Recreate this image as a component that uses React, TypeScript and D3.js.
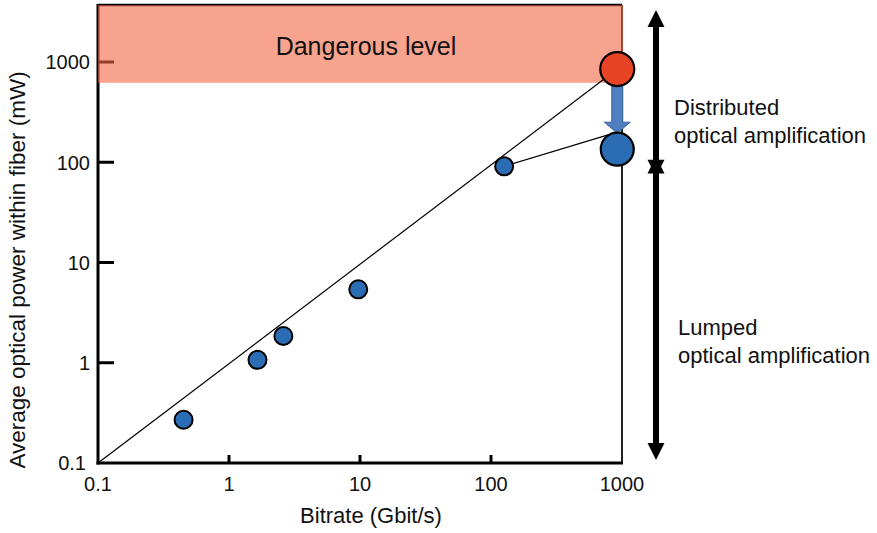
import React from "react";
import * as d3 from "d3";

const bitrate = [0.45, 1.65, 2.6, 9.7, 126];
const power = [0.27, 1.07, 1.85, 5.4, 91];
const distributedPoint = { bitrate: 920, power: 135 };
const dangerPoint = { bitrate: 920, power: 850 };
const idealLine = [ [0.1, 0.1], [920, 850] ];
const lumpedTrend = [ [126, 91], [830, 192] ];
const dangerLow = 620;
const dangerHigh = 3700;
const xTicks = [0.1, 1, 10, 100, 1000];
const yTicks = [0.1, 1, 10, 100, 1000];
const xTickLabels = ["0.1", "1", "10", "100", "1000"];
const yTickLabels = ["0.1", "1", "10", "100", "1000"];
const distributedRange = [3900, 130];
const lumpedRange = [125, 0.1];

export default function App() {
  const W = 877, H = 533;
  const x = d3.scaleLog().domain([0.1, 1000]).range([98, 622]);
  const y = d3.scaleLog().domain([0.1, 1000]).range([463, 62]);
  const font = "Arial, 'Liberation Sans', sans-serif";
  const line = d3.line<number[]>().x(d => x(d[0])).y(d => y(d[1]));
  const top = 5;
  const ax = 656;

  const dblArrow = (y1: number, y2: number, key: string) => {
    const hl = 17, hw = 8.5;
    return (
      <g key={key}>
        <line x1={ax} x2={ax} y1={y1 + hl - 2} y2={y2 - hl + 2} stroke="#000" strokeWidth={6} />
        <path d={`M${ax},${y1} L${ax - hw},${y1 + hl} L${ax + hw},${y1 + hl} Z`} fill="#000" />
        <path d={`M${ax},${y2} L${ax - hw},${y2 - hl} L${ax + hw},${y2 - hl} Z`} fill="#000" />
      </g>
    );
  };

  const ax0 = x(0.1), ax1 = x(1000), ay0 = y(0.1);
  const arrowX = x(distributedPoint.bitrate);
  const aTop = y(dangerPoint.power) + 17;
  const aHeadY = y(distributedPoint.power) - 27;
  const aTip = y(distributedPoint.power) - 16;

  return (
    <svg width={W} height={H} style={{ display: "block", position: "absolute", left: 0, top: 0 }}>
      <rect x={0} y={0} width={W} height={H} fill="#fff" />
      {/* frame */}
      <line x1={ax0} x2={ax1} y1={top} y2={top} stroke="#000" strokeWidth={2.5} />
      <line x1={ax1} x2={ax1} y1={top} y2={ay0} stroke="#222" strokeWidth={2} />
      {/* ticks */}
      {yTicks.map((t, i) => (
        <g key={"yt" + i}>
          {i > 0 && <line x1={ax0} x2={ax0 + 16} y1={y(t)} y2={y(t)} stroke="#000" strokeWidth={3} />}
          <text x={i === 0 ? 86 : 90} y={y(t) + 2} textAnchor="end" dominantBaseline="middle" fontSize={20} fontFamily={font} fill="#111">{yTickLabels[i]}</text>
        </g>
      ))}
      {xTicks.map((t, i) => (
        <g key={"xt" + i}>
          {i > 0 && i < xTicks.length - 1 && <line x1={x(t)} x2={x(t)} y1={ay0} y2={ay0 - 8} stroke="#000" strokeWidth={3} />}
          <text x={x(t)} y={491} textAnchor="middle" fontSize={20} fontFamily={font} fill="#111">{xTickLabels[i]}</text>
        </g>
      ))}
      {/* axes */}
      <line x1={ax0} x2={ax0} y1={top - 1} y2={ay0 + 1.5} stroke="#000" strokeWidth={3} />
      <line x1={ax0 - 1.5} x2={ax1 + 1} y1={ay0} y2={ay0} stroke="#000" strokeWidth={3} />
      {/* dangerous zone */}
      <rect x={ax0} y={y(dangerHigh)} width={ax1 - ax0 + 1} height={y(dangerLow) - y(dangerHigh)} fill="rgb(242,102,67)" opacity={0.6} />
      <text x={366} y={55} textAnchor="middle" fontSize={25} fontFamily={font} fill="#111">Dangerous level</text>
      {/* lines */}
      <path d={line(idealLine) || ""} fill="none" stroke="#000" strokeWidth={1.2} />
      <path d={line(lumpedTrend) || ""} fill="none" stroke="#000" strokeWidth={1.2} />
      {/* points */}
      {bitrate.map((b, i) => (
        <circle key={"p" + i} cx={x(b)} cy={y(power[i])} r={9} fill="#2A6DB4" stroke="#000" strokeWidth={2} />
      ))}
      {/* blue arrow */}
      <path
        d={`M${arrowX - 5.5},${aTop} L${arrowX + 5.5},${aTop} L${arrowX + 5.5},${aHeadY} L${arrowX + 13},${aHeadY} L${arrowX},${aTip} L${arrowX - 13},${aHeadY} L${arrowX - 5.5},${aHeadY} Z`}
        fill="#4F7FC0" stroke="#3B66A6" strokeWidth={1}
      />
      <circle cx={x(distributedPoint.bitrate)} cy={y(distributedPoint.power)} r={16.5} fill="#2A6DB4" stroke="#000" strokeWidth={2.2} />
      <circle cx={x(dangerPoint.bitrate)} cy={y(dangerPoint.power)} r={17} fill="#E64424" stroke="#000" strokeWidth={2.2} />
      {/* right arrows */}
      {dblArrow(10, y(distributedRange[1]) + 26, "a1")}
      {dblArrow(y(lumpedRange[0]) + 4, y(lumpedRange[1]) - 3, "a2")}
      <text fontSize={22} fontFamily={font} fill="#111">
        <tspan x={674} y={115}>Distributed</tspan>
        <tspan x={674} y={143}>optical amplification</tspan>
      </text>
      <text fontSize={22} fontFamily={font} fill="#111">
        <tspan x={678} y={335}>Lumped</tspan>
        <tspan x={678} y={363}>optical amplification</tspan>
      </text>
      {/* axis titles */}
      <text x={371} y={523} textAnchor="middle" fontSize={22} fontFamily={font} fill="#111">Bitrate (Gbit/s)</text>
      <text transform={`translate(25,270) rotate(-90)`} textAnchor="middle" fontSize={22.5} fontFamily={font} fill="#111">Average optical power within fiber (mW)</text>
    </svg>
  );
}
